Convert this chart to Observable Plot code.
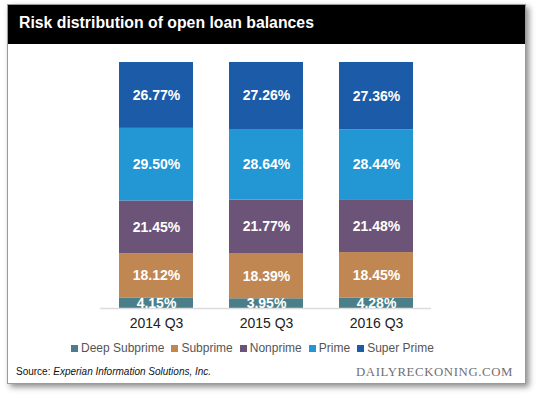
<!DOCTYPE html>
<html>
<head>
<meta charset="utf-8">
<script src="https://cdn.jsdelivr.net/npm/d3@7"></script>
<script src="https://cdn.jsdelivr.net/npm/@observablehq/plot@0.6"></script>
<style>
  html, body { margin: 0; padding: 0; background: #fff; }
  body { width: 540px; height: 394px; position: relative; overflow: hidden; font-family: "Liberation Sans", Arial, sans-serif; }
  #card { position: absolute; left: 7px; top: 4px; width: 517px; height: 378px; border: 1px solid #9a9a9a; background: #fff; box-shadow: 3px 3px 6px rgba(0,0,0,0.45); }
  #header { position: absolute; left: 0; top: 0; width: 100%; height: 39px; background: #000; }
  #title { position: absolute; left: 11px; top: 9px; color: #fff; font-weight: bold; font-size: 15.8px; }
  #chart { position: absolute; left: 0; top: 0; }
  #chart text.val { text-shadow: 0 1px 1.5px rgba(0,0,0,0.55); }
  #legend { position: absolute; left: 71px; top: 341px; display: flex; align-items: center; font-size: 12px; color: #555; white-space: nowrap; }
  #legend .item { display: flex; align-items: center; margin-right: 7px; }
  #legend .sw { width: 7px; height: 7px; margin-right: 3px; }
  #source { position: absolute; left: 16px; top: 366px; font-size: 10px; color: #111; }
  #brand { position: absolute; right: 27px; top: 365px; font-family: "Liberation Serif", "DejaVu Serif", serif; font-size: 12.8px; color: #707070; letter-spacing: 0.6px; }
</style>
</head>
<body>
<div id="card"><div id="header"><div id="title">Risk distribution of open loan balances</div></div></div>
<div id="chart"></div>
<div id="legend"></div>
<div id="source">Source: <i>Experian Information Solutions, Inc.</i></div>
<div id="brand">DAILYRECKONING.COM</div>
<script>
const periods = ["2014 Q3", "2015 Q3", "2016 Q3"];
const series = ["Deep Subprime", "Subprime", "Nonprime", "Prime", "Super Prime"];
const colors = ["#4a7f89", "#c08753", "#6b5478", "#2396d4", "#1b5ba8"];
const deepSubprime = [4.15, 3.95, 4.28];
const subprime = [18.12, 18.39, 18.45];
const nonprime = [21.45, 21.77, 21.48];
const prime = [29.50, 28.64, 28.44];
const superPrime = [26.77, 27.26, 27.36];

const valuesBySeries = [deepSubprime, subprime, nonprime, prime, superPrime];
const data = [];
series.forEach((s, si) => {
  periods.forEach((p, pi) => {
    data.push({period: p, series: s, value: valuesBySeries[si][pi]});
  });
});

const plot = Plot.plot({
  width: 540,
  height: 394,
  marginTop: 62,
  marginBottom: 86,
  marginLeft: 100,
  marginRight: 109,
  style: {background: "transparent", fontFamily: "'Liberation Sans', Arial, sans-serif", overflow: "visible"},
  x: {domain: periods, paddingInner: 0.33, paddingOuter: 0.165, label: null},
  y: {domain: [0, 100], axis: null},
  color: {domain: series, range: colors},
  marks: [
    Plot.barY(data, Plot.stackY({x: "period", y: "value", z: "series", fill: "series", order: series})),
    Plot.ruleY([0], {stroke: "#dcdcdc", strokeWidth: 1.5}),
    Plot.text(data, Plot.stackY({x: "period", y: "value", z: "series", order: series,
      text: d => d.value.toFixed(2) + "%", fill: "white", fontWeight: "bold", fontSize: 14, className: "val"})),
    Plot.axisX({tickSize: 0, tickPadding: 10, fontSize: 14, fill: "#222", label: null})
  ]
});
document.getElementById("chart").appendChild(plot);

const legend = document.getElementById("legend");
series.forEach((s, i) => {
  const item = document.createElement("div");
  item.className = "item";
  const sw = document.createElement("span");
  sw.className = "sw";
  sw.style.background = colors[i];
  const t = document.createElement("span");
  t.textContent = s;
  item.appendChild(sw);
  item.appendChild(t);
  legend.appendChild(item);
});
</script>
</body>
</html>
